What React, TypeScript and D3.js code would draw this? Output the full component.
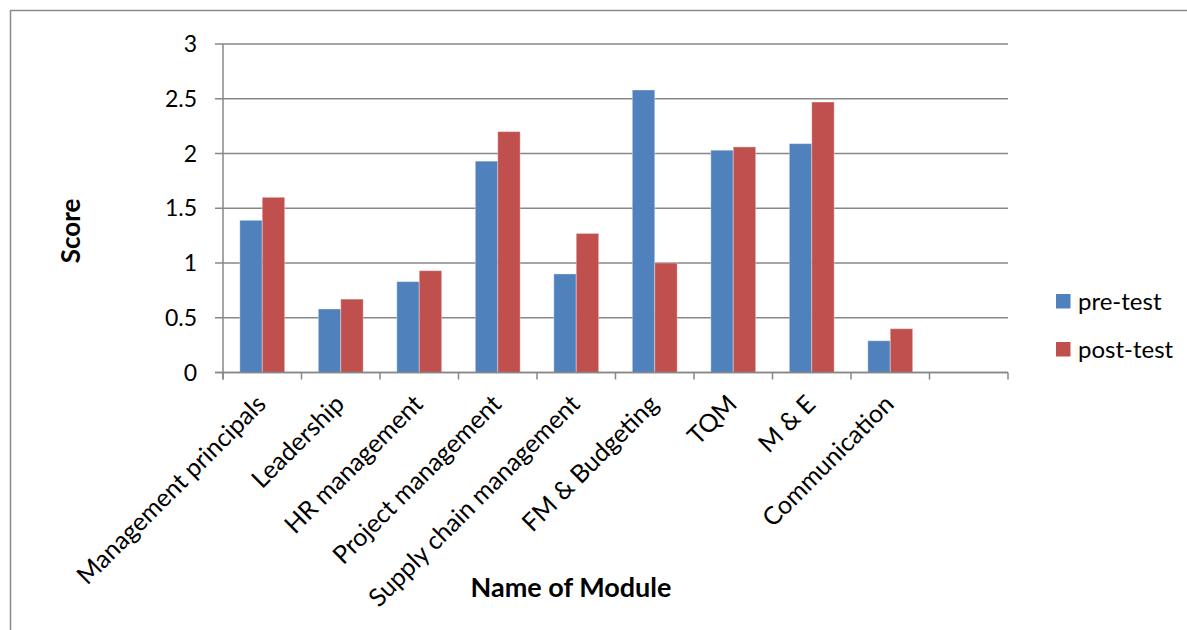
import React from "react";
import * as d3 from "d3";

const categories = [
  "Management principals",
  "Leadership",
  "HR management",
  "Project management",
  "Supply chain management",
  "FM & Budgeting",
  "TQM",
  "M & E",
  "Communication",
  "",
];
const preTest = [1.39, 0.58, 0.83, 1.93, 0.9, 2.58, 2.03, 2.09, 0.29, null];
const postTest = [1.6, 0.67, 0.93, 2.2, 1.27, 1.0, 2.06, 2.47, 0.4, null];
const yTicks = [0, 0.5, 1, 1.5, 2, 2.5, 3];
const seriesNames = ["pre-test", "post-test"];
const seriesColors = ["#4F81BD", "#C0504D"];

const W = 1187;
const H = 630;
const plot = { left: 223, right: 1008, top: 44, bottom: 372.5 };
const FONT = "Lato, 'Open Sans', sans-serif";
const GRID = "#878787";

export default function App() {
  const x = d3
    .scaleBand<number>()
    .domain(d3.range(categories.length))
    .range([plot.left, plot.right])
    .padding(0);
  const y = d3.scaleLinear().domain([0, 3]).range([plot.bottom, plot.top]);
  const bw = x.bandwidth() / 3.5;
  const groupOffset = (x.bandwidth() - 2 * bw) / 2;
  const series = [preTest, postTest];

  const boundaries = d3.range(categories.length + 1).map((i) =>
    i < categories.length ? (x(i) as number) : plot.right
  );

  return (
    <svg
      width={W}
      height={H}
      style={{ position: "absolute", left: 0, top: 0, background: "#fff" }}
      fontFamily={FONT}
    >
      <rect x={0} y={0} width={W} height={H} fill="#fff" />
      <rect
        x={10.5}
        y={10.5}
        width={W + 20}
        height={H + 20}
        fill="none"
        stroke="#8c8c8c"
        strokeWidth={1.5}
      />
      {/* gridlines and y ticks */}
      {yTicks.map((t) => (
        <line
          key={"g" + t}
          x1={plot.left - 8}
          x2={plot.right}
          y1={y(t)}
          y2={y(t)}
          stroke={GRID}
          strokeWidth={1.5}
        />
      ))}
      {yTicks.map((t) => (
        <text
          key={"yl" + t}
          x={197}
          y={y(t)}
          dy="0.35em"
          textAnchor="end"
          fontSize={23}
          fill="#000"
        >
          {t}
        </text>
      ))}
      {/* bars */}
      {series.map((vals, si) =>
        vals.map((v, i) =>
          v == null ? null : (
            <rect
              key={`b${si}-${i}`}
              x={(x(i) as number) + groupOffset + si * bw}
              y={y(v)}
              width={bw}
              height={y(0) - y(v)}
              fill={seriesColors[si]}
              stroke="rgba(255,255,255,0.35)"
              strokeWidth={1}
            />
          )
        )
      )}
      {/* axes */}
      <line
        x1={plot.left}
        x2={plot.left}
        y1={plot.top}
        y2={plot.bottom + 7}
        stroke={GRID}
        strokeWidth={1.5}
      />
      <line
        x1={plot.left - 8}
        x2={plot.right}
        y1={plot.bottom}
        y2={plot.bottom}
        stroke={GRID}
        strokeWidth={1.5}
      />
      {boundaries.map((bx, i) => (
        <line
          key={"xt" + i}
          x1={bx}
          x2={bx}
          y1={plot.bottom}
          y2={plot.bottom + 7}
          stroke={GRID}
          strokeWidth={1.5}
        />
      ))}
      {/* category labels */}
      {categories.map((c, i) => {
        const cx = (x(i) as number) + x.bandwidth() / 2 - 1;
        const cy = plot.bottom + 27;
        return (
          <text
            key={"cl" + i}
            transform={`translate(${cx},${cy}) rotate(-45)`}
            textAnchor="end"
            dy="0.35em"
            fontSize={25}
            fill="#000"
          >
            {c}
          </text>
        );
      })}
      {/* axis titles */}
      <text
        transform={`translate(80,231) rotate(-90)`}
        textAnchor="middle"
        fontSize={26}
        fontWeight="bold"
        fill="#000"
      >
        Score
      </text>
      <text
        x={571}
        y={597}
        textAnchor="middle"
        fontSize={27}
        fontWeight="bold"
        fill="#000"
      >
        Name of Module
      </text>
      {/* legend */}
      {seriesNames.map((s, i) => (
        <g key={"lg" + i} transform={`translate(1056,${294 + i * 48})`}>
          <rect width={14.5} height={14.5} fill={seriesColors[i]} />
          <text x={22} y={7.5} dy="0.35em" fontSize={24} fill="#000">
            {s}
          </text>
        </g>
      ))}
    </svg>
  );
}
